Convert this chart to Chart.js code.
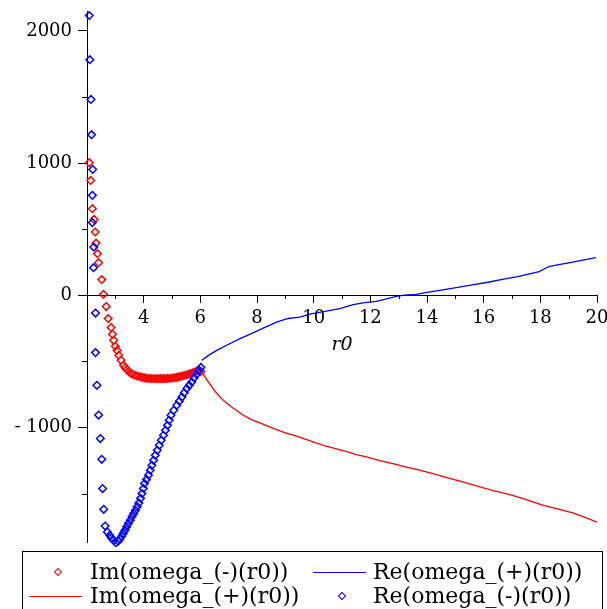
<!DOCTYPE html>
<html>
<head>
<meta charset="utf-8">
<script src="https://cdn.jsdelivr.net/npm/chart.js@4.4.0/dist/chart.umd.min.js"></script>
<style>
  body { margin: 0; background: #fff; }
  #wrap { position: relative; width: 607px; height: 609px; overflow: hidden; }
  #wrap canvas { position: absolute; left: 0; top: 0; }
  .legend { position: absolute; left: 22px; top: 551px; width: 579px; height: 70px; border: 1px solid #000;
            font-family: "DejaVu Serif", serif; font-size: 22px; color: #000; }
  .item { position: absolute; white-space: nowrap; line-height: 26px; }
  .dia { position: absolute; width: 4px; height: 4px; border: 1.5px solid; transform: rotate(45deg); }
  .ln { position: absolute; height: 0; border-top: 1.5px solid; }
</style>
</head>
<body>
<div id="wrap">
  <canvas id="plot" width="607" height="609"></canvas>
  <div class="legend">
    <span class="dia" style="left:32px;top:17px;border-color:#f00"></span>
    <span class="item" style="left:67px;top:7px">Im(omega_(-)(r0))</span>
    <span class="ln" style="left:290px;top:20px;width:53px;border-color:#00f"></span>
    <span class="item" style="left:350px;top:7px">Re(omega_(+)(r0))</span>
    <span class="ln" style="left:6px;top:44px;width:53px;border-color:#f00"></span>
    <span class="item" style="left:67px;top:31px">Im(omega_(+)(r0))</span>
    <span class="dia" style="left:316px;top:41px;border-color:#00f"></span>
    <span class="item" style="left:350px;top:31px">Re(omega_(-)(r0))</span>
  </div>
</div>
<script>
// Im(omega_(-)(r0)) - red diamonds
const imMinusX = [2.08, 2.13, 2.19, 2.25, 2.29, 2.32, 2.37, 2.41, 2.52, 2.58, 2.68, 2.75, 2.85, 2.90, 2.94,
  3.00, 3.06, 3.12, 3.20, 3.29, 3.35, 3.41, 3.47, 3.53, 3.60, 3.70, 3.78, 3.88, 3.96, 4.04, 4.12, 4.20,
  4.28, 4.36, 4.44, 4.52, 4.60, 4.68, 4.76, 4.84, 4.92, 5.00, 5.08, 5.16, 5.24, 5.32, 5.40, 5.48, 5.56,
  5.64, 5.72, 5.80, 5.88, 5.96, 6.02];
const imMinusY = [1003, 869, 655, 574, 479, 395, 315, 247, 119, 8, -85, -176, -244, -295, -340,
  -385, -416, -453, -491, -529, -548, -562, -575, -587, -596, -605, -611, -617, -621, -624, -627, -628,
  -629, -630, -630, -630, -630, -630, -629, -628, -627, -625, -623, -620, -617, -613, -608, -603, -597,
  -592, -587, -580, -572, -567, -575];

// Re(omega_(-)(r0)) - blue diamonds
const reMinusX = [2.08, 2.10, 2.14, 2.16, 2.20, 2.19, 2.19, 2.24, 2.23, 2.30, 2.30, 2.35, 2.41, 2.47, 2.52,
  2.55, 2.59, 2.64, 2.72, 2.80, 2.86, 2.94, 3.02, 3.10, 3.16, 3.22, 3.28, 3.34, 3.40, 3.46, 3.53, 3.59,
  3.65, 3.71, 3.77, 3.83, 3.89, 3.94, 3.99, 4.03, 4.10, 4.17, 4.23, 4.29, 4.35, 4.41, 4.48, 4.55, 4.62,
  4.70, 4.77, 4.84, 4.90, 4.96, 5.06, 5.17, 5.26, 5.35, 5.43, 5.52, 5.61, 5.70, 5.78, 5.86, 5.94, 6.02];
const reMinusY = [2116, 1782, 1481, 1215, 952, 756, 550, 365, 209, -134, -433, -680, -905, -1083, -1240,
  -1461, -1618, -1744, -1790, -1814, -1835, -1852, -1870, -1859, -1843, -1822, -1800, -1776, -1750, -1725, -1700, -1673,
  -1650, -1625, -1598, -1570, -1535, -1499, -1460, -1423, -1392, -1360, -1322, -1285, -1247, -1209, -1172, -1134, -1096,
  -1058, -1020, -983, -945, -907, -869, -831, -800, -769, -737, -705, -680, -655, -625, -598, -570, -545];

// Im(omega_(+)(r0)) - red line
const imPlusX = [6.05, 6.3, 6.55, 6.81, 7.1, 7.52, 7.8, 8.1, 8.4, 8.69, 9.0, 9.4, 9.75, 10.1, 10.45, 10.8,
  11.2, 11.5, 11.86, 12.3, 12.8, 13.27, 13.7, 14.21, 14.6, 15.03, 15.6, 16.2, 16.6, 17.02, 17.5, 18.08,
  18.6, 19.14, 19.6, 20.0];
const imPlusY = [-580, -660, -735, -794, -845, -907, -940, -965, -990, -1016, -1040, -1065, -1091, -1118, -1141, -1160,
  -1183, -1205, -1222, -1248, -1272, -1298, -1320, -1348, -1372, -1398, -1432, -1469, -1490, -1512, -1545, -1587,
  -1615, -1645, -1680, -1715];

// Re(omega_(+)(r0)) - blue line
const rePlusX = [6.05, 6.3, 6.58, 7.0, 7.4, 7.8, 8.2, 8.69, 9.1, 9.51, 9.9, 10.4, 10.92, 11.39, 11.8, 12.21,
  12.6, 12.92, 13.2, 13.62, 14.0, 14.5, 15.03, 15.6, 16.2, 16.7, 17.2, 17.96, 18.3, 18.6, 19.1, 19.5, 19.96];
const rePlusY = [-491, -452, -416, -370, -327, -290, -250, -202, -175, -164, -140, -122, -101, -70, -55, -45,
  -25, -8, 2, 8, 22, 40, 58, 80, 101, 122, 142, 180, 218, 230, 250, 266, 285];

// axes
const xTicks = [4, 6, 8, 10, 12, 14, 16, 18, 20];
const xMinor = [3, 5, 7, 9, 11, 13, 15, 17, 19];
const yTicks = [-1000, 0, 1000, 2000];
const yTickLabels = ['- 1000', '0', '1000', '2000'];
const yMinor = [-1500, -500, 500, 1500];

const pts = (xs, ys) => xs.map((x, i) => ({ x: x, y: ys[i] }));
const tickFont = { family: 'DejaVu Serif', size: 18 };

// small ticks between the labelled ones
const minorTicks = {
  id: 'minorTicks',
  afterDraw(chart) {
    const { ctx, scales: { x, y } } = chart;
    const x0 = Math.round(x.getPixelForValue(2));
    const y0 = Math.round(y.getPixelForValue(0));
    ctx.save();
    ctx.strokeStyle = '#000';
    ctx.lineWidth = 1;
    ctx.beginPath();
    xMinor.forEach(v => {
      const px = Math.round(x.getPixelForValue(v)) + 0.5;
      ctx.moveTo(px, y0); ctx.lineTo(px, y0 + 4);
    });
    yMinor.forEach(v => {
      const py = Math.round(y.getPixelForValue(v)) + 0.5;
      ctx.moveTo(x0, py); ctx.lineTo(x0 - 5, py);
    });
    ctx.stroke();
    ctx.restore();
  }
};

const ctx = document.getElementById('plot').getContext('2d');
new Chart(ctx, {
  type: 'scatter',
  data: {
    datasets: [{
      label: 'Re(omega_(-)(r0))',
      data: pts(reMinusX, reMinusY),
      pointStyle: 'rectRot',
      pointRadius: 3.8,
      borderColor: '#00f',
      backgroundColor: 'rgba(255,255,255,0)',
      borderWidth: 1.5,
      showLine: false,
      clip: false,
      order: 0
    }, {
      label: 'Im(omega_(-)(r0))',
      data: pts(imMinusX, imMinusY),
      pointStyle: 'rectRot',
      pointRadius: 3.8,
      borderColor: '#f00',
      backgroundColor: 'rgba(255,255,255,0)',
      borderWidth: 1.5,
      showLine: false,
      clip: false,
      order: 1
    }, {
      label: 'Im(omega_(+)(r0))',
      data: pts(imPlusX, imPlusY),
      showLine: true,
      borderColor: '#f00',
      borderWidth: 1.3,
      pointRadius: 0,
      tension: 0,
      order: 2
    }, {
      label: 'Re(omega_(+)(r0))',
      data: pts(rePlusX, rePlusY),
      showLine: true,
      borderColor: '#00f',
      borderWidth: 1.3,
      pointRadius: 0,
      tension: 0,
      order: 3
    }]
  },
  options: {
    responsive: false,
    animation: false,
    layout: { padding: { left: 0, right: 10, top: 11, bottom: 67 } },
    plugins: { legend: { display: false }, tooltip: { enabled: false } },
    scales: {
      x: {
        type: 'linear',
        min: 2,
        max: 20,
        position: { y: 0 },
        afterBuildTicks: s => { s.ticks = xTicks.map(v => ({ value: v })); },
        afterFit: s => { s.paddingLeft = 0; s.paddingRight = 0; },
        ticks: { font: tickFont, color: '#000', padding: 5, maxRotation: 0, autoSkip: false },
        grid: { drawOnChartArea: false, tickLength: 7, color: '#000' },
        border: { color: '#000', width: 1 },
        title: { display: true, text: 'r0', color: '#000', padding: 0,
                 font: { family: 'DejaVu Serif', size: 19, style: 'italic' } }
      },
      y: {
        type: 'linear',
        min: -1865,
        max: 2150,
        position: 'left',
        afterBuildTicks: s => { s.ticks = yTicks.map(v => ({ value: v })); },
        afterFit: s => { s.width = 87; s.paddingTop = 0; s.paddingBottom = 0; },
        ticks: { font: tickFont, color: '#000', padding: 6, autoSkip: false,
                 callback: v => yTickLabels[yTicks.indexOf(v)] },
        grid: { drawOnChartArea: false, tickLength: 9, color: '#000' },
        border: { color: '#000', width: 1 }
      }
    }
  },
  plugins: [minorTicks]
});
</script>
</body>
</html>
